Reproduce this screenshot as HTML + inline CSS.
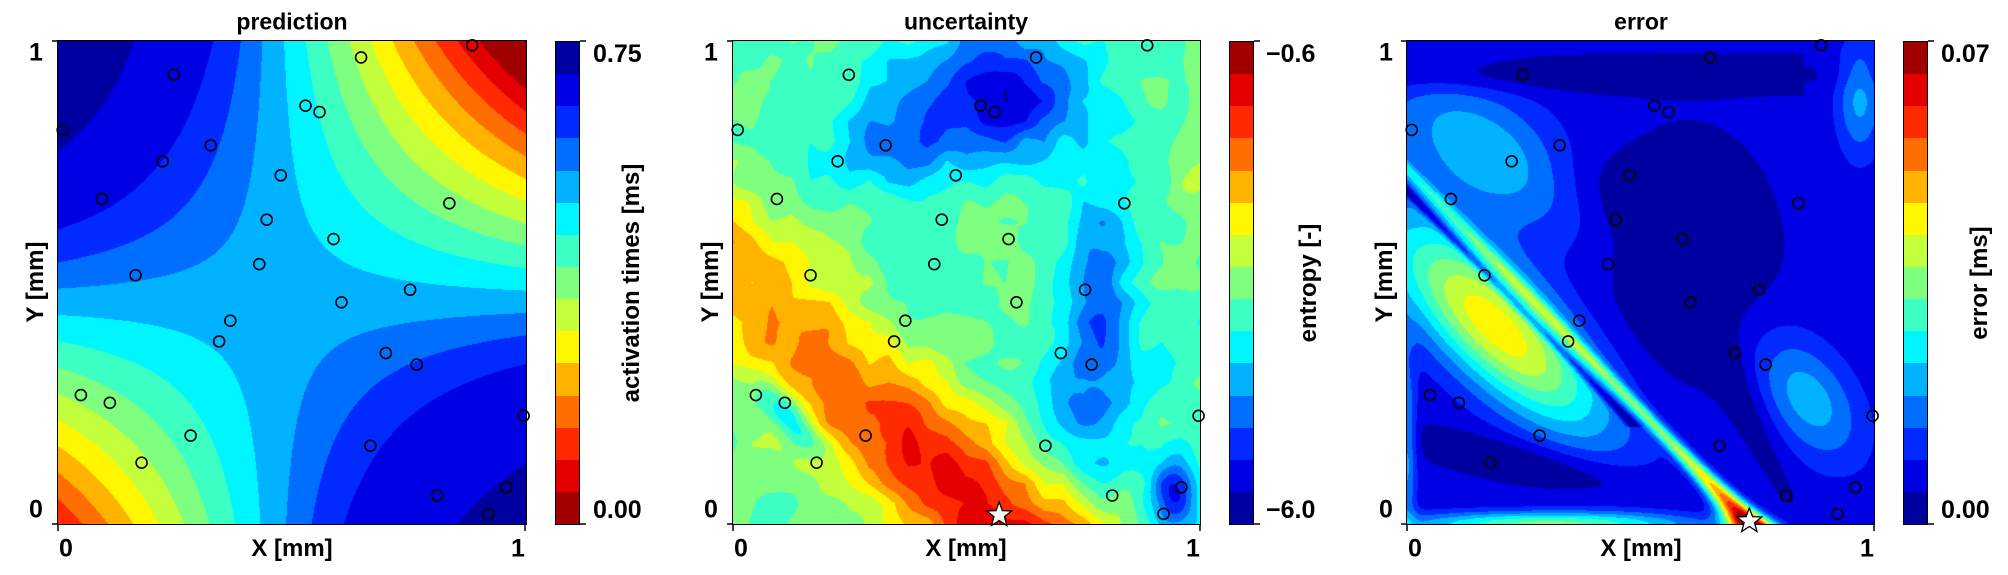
<!DOCTYPE html>
<html><head><meta charset="utf-8">
<style>
body{margin:0;background:#fff;width:2008px;height:575px;overflow:hidden;position:relative;font-family:"Liberation Sans",Arial,sans-serif;font-weight:bold;color:#000}
.t{position:absolute;white-space:nowrap;line-height:1}
.c{transform:translate(-50%,-50%)}
.rot{transform:translate(-50%,-50%) rotate(-90deg)}
canvas{position:absolute}
.frame{position:absolute;border:1.5px solid #000;box-sizing:border-box}
.cb{position:absolute;display:flex;flex-direction:column;border:1.5px solid #000;box-sizing:border-box}
.cb div{flex:1}
svg{position:absolute;left:0;top:0}
</style></head><body>
<canvas id="c0" width="468" height="483" style="left:58px;top:41px"></canvas>
<canvas id="c1" width="467" height="483" style="left:733px;top:41px"></canvas>
<canvas id="c2" width="467" height="483" style="left:1407px;top:41px"></canvas>
<div class="frame" style="left:57px;top:40px;width:470px;height:485px"></div>
<div class="frame" style="left:732px;top:40px;width:469px;height:485px"></div>
<div class="frame" style="left:1406px;top:40px;width:469px;height:485px"></div>
<div class="cb" id="cb0" style="left:555px;top:41px;width:25px;height:484px"></div>
<div class="cb" id="cb1" style="left:1229px;top:41px;width:25px;height:484px"></div>
<div class="cb" id="cb2" style="left:1903px;top:41px;width:25px;height:484px"></div>
<svg id="ov" width="2008" height="575"></svg>

<div class="t c" style="left:292px;top:22px;font-size:23px">prediction</div>
<div class="t c" style="left:966px;top:22px;font-size:23px">uncertainty</div>
<div class="t c" style="left:1641px;top:22px;font-size:23px">error</div>

<div class="t c" style="left:36px;top:53px;font-size:25px">1</div>
<div class="t c" style="left:36px;top:510px;font-size:25px">0</div>
<div class="t c" style="left:66px;top:549px;font-size:25px">0</div>
<div class="t c" style="left:518px;top:549px;font-size:25px">1</div>
<div class="t c" style="left:292px;top:549px;font-size:24px">X [mm]</div>
<div class="t rot" style="left:36px;top:282px;font-size:24px">Y [mm]</div>
<div class="t" style="left:593px;top:42px;font-size:25px">0.75</div>
<div class="t" style="left:593px;top:498px;font-size:25px">0.00</div>
<div class="t rot" style="left:632px;top:283px;font-size:24px">activation times [ms]</div>

<div class="t c" style="left:711px;top:53px;font-size:25px">1</div>
<div class="t c" style="left:711px;top:510px;font-size:25px">0</div>
<div class="t c" style="left:741px;top:549px;font-size:25px">0</div>
<div class="t c" style="left:1193px;top:549px;font-size:25px">1</div>
<div class="t c" style="left:966px;top:549px;font-size:24px">X [mm]</div>
<div class="t rot" style="left:711px;top:282px;font-size:24px">Y [mm]</div>
<div class="t" style="left:1266px;top:42px;font-size:25px">−0.6</div>
<div class="t" style="left:1266px;top:498px;font-size:25px">−6.0</div>
<div class="t rot" style="left:1309px;top:283px;font-size:24px">entropy [-]</div>

<div class="t c" style="left:1386px;top:53px;font-size:25px">1</div>
<div class="t c" style="left:1386px;top:510px;font-size:25px">0</div>
<div class="t c" style="left:1415px;top:549px;font-size:25px">0</div>
<div class="t c" style="left:1867px;top:549px;font-size:25px">1</div>
<div class="t c" style="left:1641px;top:549px;font-size:24px">X [mm]</div>
<div class="t rot" style="left:1385px;top:282px;font-size:24px">Y [mm]</div>
<div class="t" style="left:1941px;top:42px;font-size:25px">0.07</div>
<div class="t" style="left:1941px;top:498px;font-size:25px">0.00</div>
<div class="t rot" style="left:1980px;top:283px;font-size:24px">error [ms]</div>

<script>
function jet(t){function c(v){return Math.max(0,Math.min(1,v));}
return [c(1.5-Math.abs(4*t-3))*255|0,c(1.5-Math.abs(4*t-2))*255|0,c(1.5-Math.abs(4*t-1))*255|0];}
var COL=[];for(var i=0;i<15;i++)COL.push(jet((i+0.5)/15));
function hx(c){return 'rgb('+c[0]+','+c[1]+','+c[2]+')';}
['cb0','cb1','cb2'].forEach(function(id,k){var el=document.getElementById(id);
 for(var i=0;i<15;i++){var d=document.createElement('div');
  var idx=(k==0)?i:14-i; d.style.background=hx(COL[idx]);el.appendChild(d);}});
function hash(i,j,s){var h=Math.sin(i*127.1+j*311.7+s*74.7)*43758.5453;return h-Math.floor(h);}
function vn(x,y,s){var i=Math.floor(x),j=Math.floor(y),fx=x-i,fy=y-j;
 var a=hash(i,j,s),b=hash(i+1,j,s),c=hash(i,j+1,s),d=hash(i+1,j+1,s);
 return (a*(1-fx)+b*fx)*(1-fy)+(c*(1-fx)+d*fx)*fy-0.5;}
function g(x,y,cx,cy,sx,sy){var dx=(x-cx)/sx,dy=(y-cy)/sy;return Math.exp(-(dx*dx+dy*dy));}
function gr(x,y,cx,cy,sa,sb,ang){var c=Math.cos(ang),s=Math.sin(ang),dx=x-cx,dy=y-cy;
 var a=(dx*c+dy*s)/sa,b=(-dx*s+dy*c)/sb;return Math.exp(-(a*a+b*b));}
function pred(x,y){var u=0.525-2*(x-0.46)*(y-0.46);var f=u;
 if(u>0.6)f=0.6+0.106*(1-Math.exp(-(u-0.6)/0.1))+0.02*Math.max(0,0.2-x)*Math.max(0,y-0.6)*10;
 if(u<0.05)f=0.05-0.05*(1-Math.exp(-(0.05-u)/0.05));
 return 1-f/0.75;}
function unc(x,y){
 var s=(x/0.57+y/0.52-1)*0.5;
 var band=Math.exp(-Math.pow(s/0.2,2));
 var amp=0.24+0.22*Math.max(0,1-y/0.5);
 var v=0.46+amp*band;
 v-=0.06*Math.max(0,x-0.5);
 v-=0.36*g(x,y,0.56,0.88,0.2,0.14);
 v-=0.15*g(x,y,0.36,0.78,0.12,0.1);
 v-=0.25*g(x,y,0.78,0.45,0.08,0.22);
 v-=0.12*g(x,y,0.72,0.2,0.1,0.15);
 v-=0.3*gr(x,y,0.12,0.22,0.1,0.035,-0.8);
 v-=0.3*g(x,y,0.94,0.06,0.05,0.08);
 v+=0.1*g(x,y,1.0,0.7,0.06,0.25);
 v-=0.05*g(x,y,0.2,0.75,0.1,0.08);
 v+=0.09*vn(x*24,y*24,1)+0.08*vn(x*10,y*10,2);
 return v;}
function err(x,y){
 var v=0.085;
 v+=0.24*gr(x,y,0.17,0.77,0.24,0.12,-0.55);
 v+=0.56*gr(x,y,0.19,0.41,0.3,0.11,-0.75);
 var r=(x+y-0.735)/1.414;
 var A=0.18+0.62*Math.exp(-y/0.08)+0.22*Math.max(0,1-y/0.6);
 var sg=0.013+0.02*Math.exp(-y/0.08);
 v+=A*Math.exp(-Math.pow(r/sg,2));
 v-=0.2*Math.exp(-Math.pow((r+0.032)/0.009,2))*(y>0.2&&y<0.75?1:0);
 v+=0.22*gr(x,y,0.86,0.26,0.15,0.09,-0.95);
 v+=0.2*g(x,y,0.97,0.88,0.05,0.12);
 v+=0.4*Math.exp(-Math.pow(y/0.025,2))*g(x,0,0.3,0,0.3,1);
 v+=0.2*Math.exp(-Math.pow(x/0.02,2))*g(0,y,0,0.15,1,0.2);
 v-=0.1*g(x,y,0.6,0.55,0.16,0.22);
 v-=0.07*gr(x,y,0.45,0.68,0.18,0.08,-0.4);
 v-=0.08*Math.exp(-Math.pow((y-0.93)/0.035,2))*(x<0.85?1:0.3);
 v-=0.1*gr(x,y,0.3,0.12,0.28,0.045,-0.2);
 v-=0.08*gr(x,y,0.7,0.3,0.25,0.04,-1.1);
 return v;}
function draw(id,f){var cv=document.getElementById(id),ctx=cv.getContext('2d');
 var W=cv.width,H=cv.height,im=ctx.createImageData(W,H),d=im.data;
 for(var py=0;py<H;py++)for(var px=0;px<W;px++){
  var x=(px+0.5)/W,y=1-(py+0.5)/H,t=f(x,y);
  var k=Math.floor(t*15);if(k<0)k=0;if(k>14)k=14;var c=COL[k],o=(py*W+px)*4;
  d[o]=c[0];d[o+1]=c[1];d[o+2]=c[2];d[o+3]=255;}
 ctx.putImageData(im,0,0);}
draw('c0',pred);draw('c1',unc);draw('c2',err);
var pts=[[.887,.991],[.649,.966],[.248,.930],[.530,.866],[.560,.853],[.010,.816],[.327,.784],[.224,.751],[.477,.722],[.094,.673],[.838,.664],[.447,.630],[.590,.590],[.431,.538],[.166,.515],[.754,.485],[.607,.459],[.369,.421],[.345,.378],[.702,.354],[.768,.330],[.049,.267],[.111,.251],[.997,.224],[.284,.183],[.669,.162],[.179,.127],[.960,.076],[.812,.059],[.922,.021]];
var ox=[58,733,1407],svg='';
ox.forEach(function(L){
 pts.forEach(function(p){svg+='<circle cx="'+(L+p[0]*467)+'" cy="'+(524-p[1]*483)+'" r="5.5" fill="none" stroke="#000" stroke-width="1.6"/>';});
 svg+='<line x1="'+(L-6)+'" y1="41" x2="'+L+'" y2="41" stroke="#000" stroke-width="1.5"/>';
 svg+='<line x1="'+(L-6)+'" y1="524" x2="'+L+'" y2="524" stroke="#000" stroke-width="1.5"/>';
 svg+='<line x1="'+L+'" y1="524" x2="'+L+'" y2="531" stroke="#000" stroke-width="1.5"/>';
 svg+='<line x1="'+(L+467)+'" y1="524" x2="'+(L+467)+'" y2="531" stroke="#000" stroke-width="1.5"/>';
});
[580,1254,1928].forEach(function(X){
 svg+='<line x1="'+X+'" y1="41" x2="'+(X+6)+'" y2="41" stroke="#000" stroke-width="1.5"/>';
 svg+='<line x1="'+X+'" y1="524" x2="'+(X+6)+'" y2="524" stroke="#000" stroke-width="1.5"/>';});
function star(cx,cy,R){var s='';for(var i=0;i<10;i++){var r=i%2?R*0.42:R,a=-Math.PI/2+i*Math.PI/5;
 s+=(cx+r*Math.cos(a)).toFixed(1)+','+(cy+r*Math.sin(a)).toFixed(1)+' ';}
 return '<polygon points="'+s+'" fill="#fff" stroke="#000" stroke-width="1.3"/>';}
svg+=star(733+0.570*467,515,13);
svg+=star(1407+0.733*467,521,13);
document.getElementById('ov').innerHTML=svg;
</script>
</body></html>
